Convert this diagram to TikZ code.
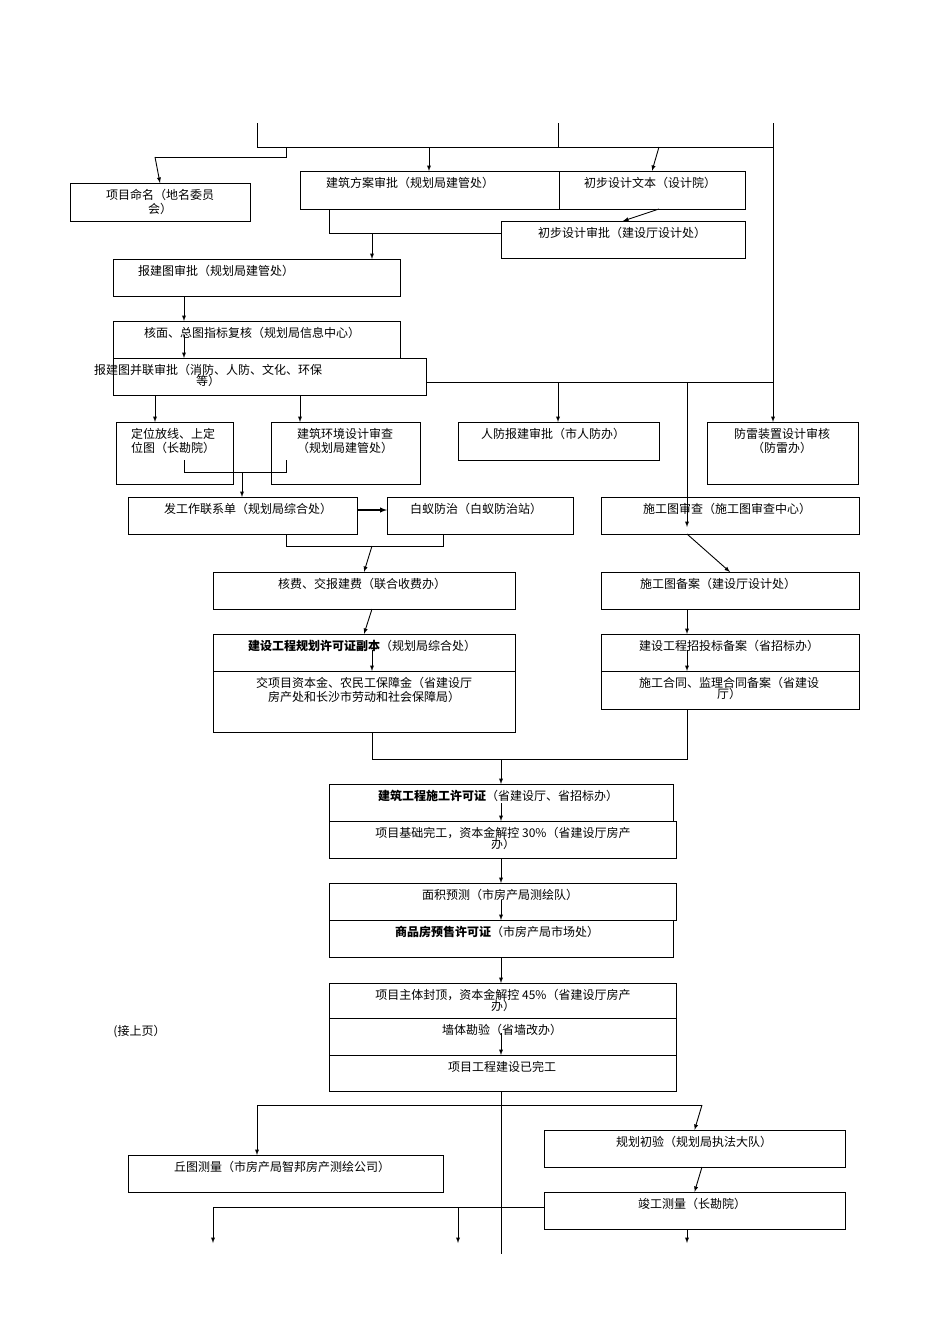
\documentclass[tikz,border=0pt]{standalone}
\usepackage{fontspec}
\setmainfont{Noto Sans CJK SC}
\begin{document}
\begin{tikzpicture}[x=1pt,y=-1pt,line width=0.9pt,
  ar/.style={-latex},
  txt/.style={font=\fontsize{12}{14}\selectfont,align=center,inner sep=0pt,anchor=north}]
\useasboundingbox (0,0) rectangle (950,1344);
\newcommand{\bx}[7]{\draw (#2,#3) rectangle (#4,#5);
  \coordinate (#1) at ({(#2+#4)/2},{(#3+#5)/2});
  \coordinate (#1-n) at ({(#2+#4)/2},#3);
  \node[txt] (#1-t) at (#6,#3+6) {#7};}
\bx{nm}{70}{183}{250}{221}{160}{项目命名（地名委员\\会）}
\bx{jzfa}{300}{171}{559}{209}{410}{建筑方案审批（规划局建管处）}
\bx{cbsj}{559}{171}{745}{209}{650}{初步设计文本（设计院）}
\bx{cbsp}{501}{221}{745}{258}{622}{初步设计审批（建设厅设计处）}
\bx{bjt}{113}{259}{400}{296}{216}{报建图审批（规划局建管处）}
\bx{hm}{113}{321}{400}{358}{252}{核面、总图指标复核（规划局信息中心）}
\bx{bl}{113}{358}{426}{395}{208}{报建图并联审批（消防、人防、文化、环保\\[-3pt]等）}
\bx{dw}{116}{422}{233}{484}{173}{定位放线、上定\\位图（长勘院）}
\bx{hj}{271}{422}{420}{484}{345}{建筑环境设计审查\\（规划局建管处）}
\bx{rf}{458}{422}{659}{460}{553}{人防报建审批（市人防办）}
\bx{fl}{707}{422}{858}{484}{782}{防雷装置设计审核\\（防雷办）}
\bx{fg}{128}{497}{357}{534}{248}{发工作联系单（规划局综合处）}
\bx{by}{387}{497}{573}{534}{476}{白蚁防治（白蚁防治站）}
\bx{sgt}{601}{497}{859}{534}{727}{施工图审查（施工图审查中心）}
\bx{hf}{213}{572}{515}{609}{362}{核费、交报建费（联合收费办）}
\bx{sgba}{601}{572}{859}{609}{718}{施工图备案（建设厅设计处）}
\bx{gh}{213}{634}{515}{671}{362}{\textbf{建设工程规划许可证副本}（规划局综合处）}
\bx{jx}{213}{671}{515}{732}{364}{交项目资本金、农民工保障金（省建设厅\\房产处和长沙市劳动和社会保障局）}
\bx{zb}{601}{634}{859}{671}{729}{建设工程招投标备案（省招标办）}
\bx{ht}{601}{671}{859}{709}{729}{施工合同、监理合同备案（省建设\\[-3pt]厅）}
\bx{sg}{329}{784}{673}{821}{498}{\textbf{建筑工程施工许可证}（省建设厅、省招标办）}
\bx{jc}{329}{821}{676}{858}{503}{项目基础完工，资本金解控 30\%（省建设厅房产\\[-3pt]办）}
\bx{mj}{329}{883}{676}{920}{500}{面积预测（市房产局测绘队）}
\bx{ys}{329}{920}{673}{957}{497}{\textbf{商品房预售许可证}（市房产局市场处）}
\bx{zt}{329}{983}{676}{1018}{503}{项目主体封顶，资本金解控 45\%（省建设厅房产\\[-3pt]办）}
\bx{qt}{329}{1018}{676}{1055}{502}{墙体勘验（省墙改办）}
\bx{wg}{329}{1055}{676}{1091}{502}{项目工程建设已完工}
\bx{qc}{128}{1155}{443}{1192}{282}{丘图测量（市房产局智邦房产测绘公司）}
\bx{gc}{544}{1130}{845}{1167}{694}{规划初验（规划局执法大队）}
\bx{jg}{544}{1192}{845}{1229}{692}{竣工测量（长勘院）}
\node[txt,anchor=west] (jsy) at (113,1032) {(接上页）};
% top
\coordinate (t1) at (257,123); \coordinate (t2) at (558,123); \coordinate (t3) at (773,123);
\draw (t1) -- (257,147) -- (773,147);
\draw (t2) -- (558,147);
\draw[ar] (t3) -- (773,422);
\draw (286,147) -- (286,157) -- (155,157);
\draw[ar] (155,157) -- (nm-n);
\draw[ar] (429,147) -- (429,171);
\draw[ar] (659,147) -- (cbsj-n);
\draw[ar] (659,209) -- (cbsp-n);
\draw (329,209) -- (329,233) -- (501,233);
\draw[ar] (372,233) -- (372,259);
\draw[ar] (184,296) -- (184,321);
\draw[ar] (184,335) -- (184,358);
\draw (426,382) -- (773,382);
\draw[ar] (558,382) -- (558,422);
\draw[ar] (687,382) -- (687,527);
\draw[ar] (155,395) -- (155,422);
\draw[ar] (300,395) -- (300,422);
\draw (184,460) -- (184,472) -- (286,472) -- (286,460);
\draw[ar] (242,472) -- (242,497);
\draw[ar,line width=1.4pt] (357,510) -- (387,510);
\draw (286,534) -- (286,546) -- (443,546) -- (443,534);
\draw[ar] (372,546) -- (hf-n);
\draw[ar] (372,609) -- (gh-n);
\draw[ar] (372,650) -- (372,671);
\draw[ar] (687,534) -- (sgba-n);
\draw[ar] (687,609) -- (687,634);
\draw[ar] (687,650) -- (687,671);
\draw (372,732) -- (372,759) -- (687,759) -- (687,709);
\draw[ar] (501,759) -- (501,784);
\draw[ar] (501,803) -- (501,821);
\draw[ar] (501,858) -- (501,883);
\draw[ar] (501,900) -- (501,920);
\draw[ar] (501,957) -- (501,983);
\draw[ar] (501,1033) -- (501,1055);
\coordinate (bot) at (501,1254);
\draw (501,1091) -- (bot);
\draw (257,1105) -- (702,1105);
\draw[ar] (257,1105) -- (257,1155);
\draw[ar] (702,1105) -- (gc-n);
\draw[ar] (702,1167) -- (jg-n);
\draw (544,1207) -- (213,1207);
\draw[ar] (213,1207) -- (213,1243);
\draw[ar] (458,1207) -- (458,1243);
\draw[ar] (687,1229) -- (687,1243);
\end{tikzpicture}
\end{document}
